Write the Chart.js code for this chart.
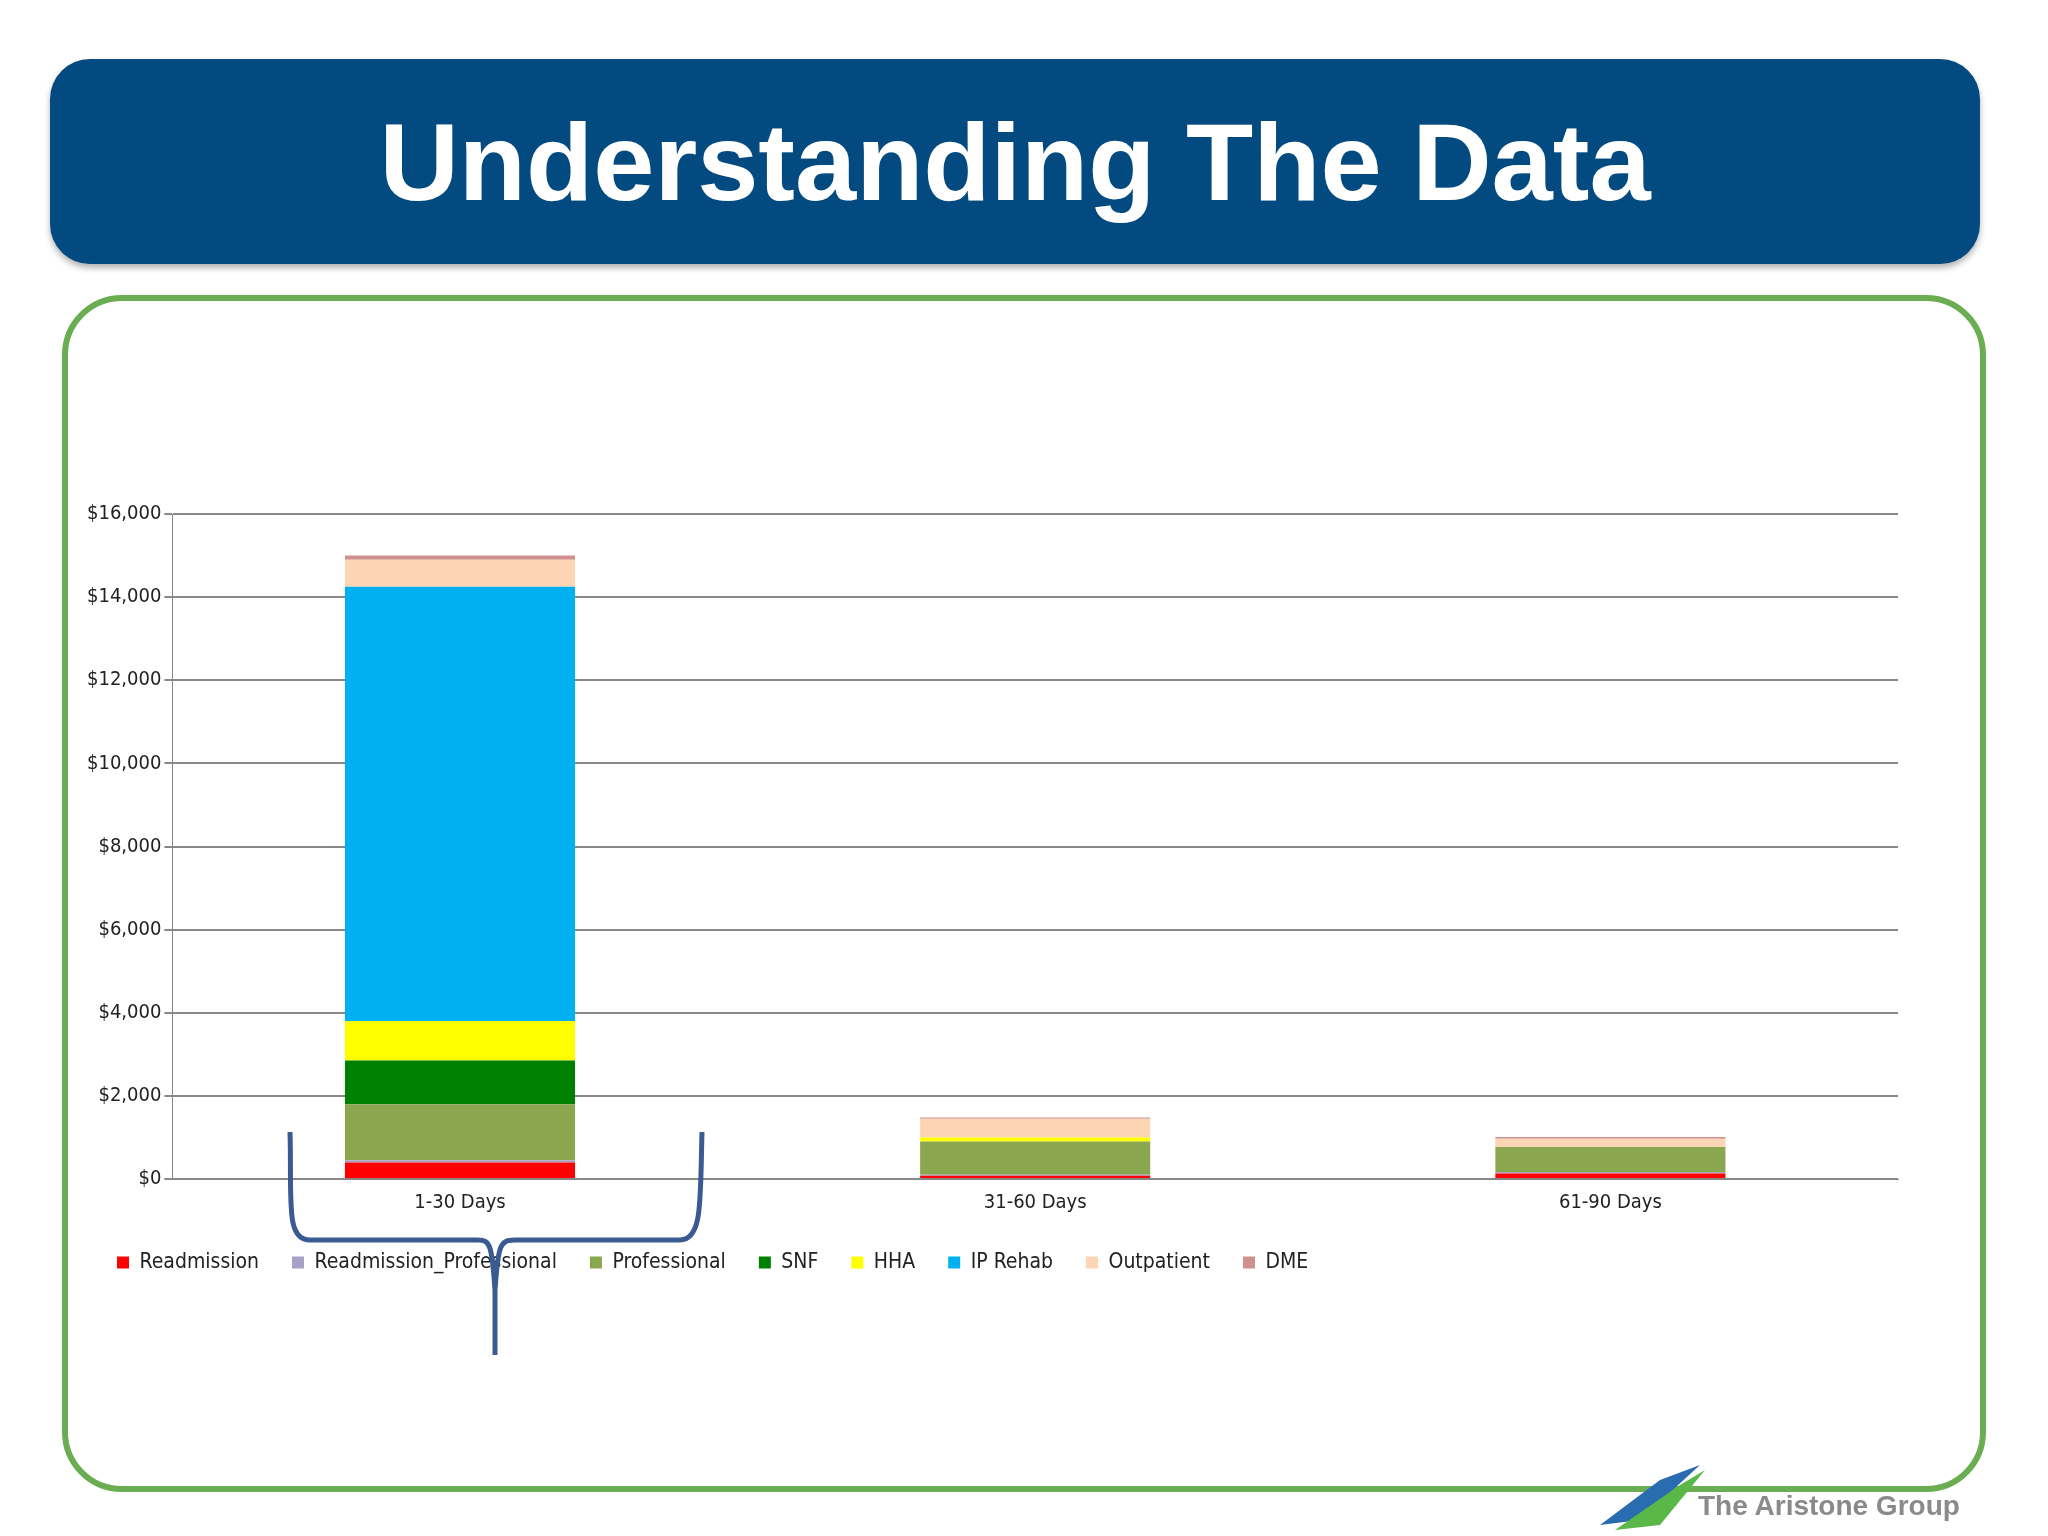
<!DOCTYPE html>
<html><head><meta charset="utf-8">
<script src="https://cdn.jsdelivr.net/npm/chart.js@4"></script>
<style>
body{margin:0;width:2048px;height:1536px;background:#fff;position:relative;overflow:hidden;font-family:"DejaVu Sans",sans-serif}
#hdr{position:absolute;left:50px;top:59px;width:1930px;height:205px;background:#024a80;border-radius:40px;box-shadow:0 4px 6px rgba(0,0,0,.3);color:#fff;font:bold 110px "Liberation Sans",Arial,sans-serif;text-align:center;line-height:205px}
#frame{position:absolute;left:62px;top:295px;width:1912px;height:1185px;border:6px solid #6aad52;border-radius:60px}
#wrap{position:absolute;left:60px;top:480px;width:1860px;height:803px}
#logo{position:absolute;left:1698px;top:1490px;font:bold 28px "Liberation Sans",Arial;color:#8a8a8a}
svg{position:absolute;left:0;top:0}
</style></head><body>
<div id="hdr">Understanding The Data</div>
<div id="frame"></div>
<div id="wrap"><canvas id="c" width="1860" height="803"></canvas></div>
<svg width="2048" height="1536"><path d="M290 1132 C292 1200,285 1240,310 1240 L478 1240 C490 1240,492 1245,495 1290 L495 1355 L495 1290 C498 1245,500 1240,515 1240 L680 1240 C703 1240,700 1200,702 1132" fill="none" stroke="#3a5a92" stroke-width="5"/>
<path d="M1600 1525 L1660 1480 L1700 1465 L1640 1520Z" fill="#2a6cb0"/><path d="M1615 1530 L1680 1485 L1705 1470 L1660 1525Z" fill="#5ab848"/></svg>
<div id="logo">The Aristone Group</div>
<script>
const categories=["1-30 Days","31-60 Days","61-90 Days"];
const readmission=[400,80,130];
const readmissionProf=[50,20,40];
const professional=[1350,800,600];
const snf=[1050,0,0];
const hha=[950,100,0];
const ipRehab=[10450,0,0];
const outpatient=[650,450,200];
const dme=[100,30,40];
const names=["Readmission","Readmission_Professional","Professional","SNF","HHA","IP Rehab","Outpatient","DME"];
const colors=["#ff0000","#a9a2c8","#8aa64e","#008000","#ffff00","#00b0f0","#fcd5b5","#d09090"];
const series=[readmission,readmissionProf,professional,snf,hha,ipRehab,outpatient,dme];
const font={family:"DejaVu Sans Condensed, DejaVu Sans",size:20};
new Chart(document.getElementById('c'),{type:'bar',
data:{labels:categories,datasets:series.map((d,i)=>({label:names[i],data:d,backgroundColor:colors[i],barPercentage:0.4,categoryPercentage:1}))},
options:{responsive:false,animation:false,devicePixelRatio:1,
 layout:{padding:{left:24,right:22,top:34}},
 plugins:{legend:{position:'bottom',align:'start',labels:{boxWidth:12,boxHeight:12,font:{...font,size:21},color:'#222',padding:33}},tooltip:{enabled:false}},
 scales:{x:{stacked:true,grid:{display:false},border:{color:'#888'},ticks:{font,color:'#222',maxRotation:0,padding:4}},
  y:{stacked:true,min:0,max:16000,ticks:{stepSize:2000,font,color:'#222',callback:v=>'$'+v.toLocaleString('en-US')},grid:{color:'#888',lineWidth:2},border:{color:'#888'}}}}});
</script></body></html>
